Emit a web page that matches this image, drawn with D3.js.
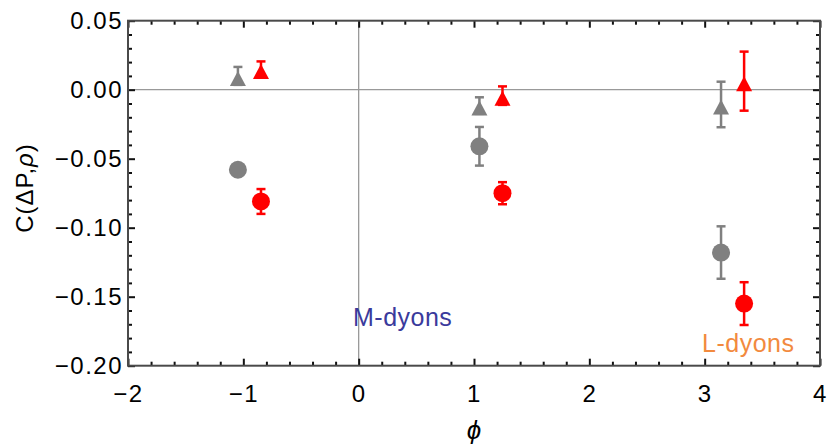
<!DOCTYPE html>
<html>
<head>
<meta charset="utf-8">
<script src="https://cdn.jsdelivr.net/npm/d3@7"></script>
<style>
  body { margin: 0; background: #fff; }
  svg { display: block; font-family: "Liberation Sans", Arial, sans-serif; }
  .tick-label { font-size: 24px; letter-spacing: 1.5px; fill: #000; }
</style>
</head>
<body>
<div id="chart"></div>
<script>
// positions of the two series on the phi axis
const phiGray = [-1.047, 1.047, 3.142];
const phiRed = [-0.847, 1.247, 3.342];

// circles
const grayCircle = [-0.058, -0.041, -0.118];
const grayCircleErr = [0.004, 0.014, 0.019];
const redCircle = [-0.081, -0.075, -0.155];
const redCircleErr = [0.009, 0.008, 0.0155];

// triangles
const grayTri = [0.010, -0.0115, -0.0107];
const grayTriErr = [0.0065, 0.006, 0.0165];
const redTri = [0.015, -0.0043, 0.0062];
const redTriErr = [0.0055, 0.0067, 0.0214];

const xTicks = [-2, -1, 0, 1, 2, 3, 4];
const yTicks = [-0.20, -0.15, -0.10, -0.05, 0.00, 0.05];

const width = 827;
const height = 448;
const margin = { top: 20.7, right: 7, bottom: 82.3, left: 128 };

const svg = d3.select('#chart')
  .append('svg')
  .attr('width', width)
  .attr('height', height);

const x = d3.scaleLinear().domain([-2, 4]).range([margin.left, width - margin.right]);
const y = d3.scaleLinear().domain([-0.2, 0.05]).range([height - margin.bottom, margin.top]);

const x0 = x.range()[0], x1 = x.range()[1];
const y0 = y.range()[0], y1 = y.range()[1];

// zero lines
svg.append('line')
  .attr('x1', x(0)).attr('x2', x(0))
  .attr('y1', y1).attr('y2', y0)
  .attr('stroke', '#999').attr('stroke-width', 1.3);
svg.append('line')
  .attr('x1', x0).attr('x2', x1)
  .attr('y1', y(0)).attr('y2', y(0))
  .attr('stroke', '#999').attr('stroke-width', 1.3);

// frame ticks, pointing inward on all four sides
const xMinor = d3.range(-2, 4.001, 0.2).filter(v => Math.abs(v - Math.round(v)) > 1e-6);
const yMinor = d3.range(-0.2, 0.0501, 0.01).filter(v => Math.abs(v * 20 - Math.round(v * 20)) > 1e-6);

function styleAxis(g) {
  g.select('.domain').remove();
  g.selectAll('.tick line').attr('stroke', '#111').attr('stroke-width', 2);
}

svg.append('g')
  .attr('transform', `translate(0,${y0})`)
  .call(d3.axisBottom(x).tickValues(xTicks).tickSizeInner(-7).tickSizeOuter(0).tickPadding(19)
    .tickFormat(d => d < 0 ? '\u2212' + Math.abs(d) : String(d)))
  .call(styleAxis)
  .call(g => g.selectAll('text').attr('class', 'tick-label').attr('font-size', null).attr('font-family', null)
    .attr('dy', '0.71em'));

svg.append('g')
  .attr('transform', `translate(0,${y0})`)
  .call(d3.axisBottom(x).tickValues(xMinor).tickSizeInner(-4).tickSizeOuter(0).tickFormat(''))
  .call(styleAxis);

svg.append('g')
  .attr('transform', `translate(0,${y1})`)
  .call(d3.axisTop(x).tickValues(xTicks).tickSizeInner(-7).tickSizeOuter(0).tickFormat(''))
  .call(styleAxis);
svg.append('g')
  .attr('transform', `translate(0,${y1})`)
  .call(d3.axisTop(x).tickValues(xMinor).tickSizeInner(-4).tickSizeOuter(0).tickFormat(''))
  .call(styleAxis);

svg.append('g')
  .attr('transform', `translate(${x0},0)`)
  .call(d3.axisLeft(y).tickValues(yTicks).tickSizeInner(-7).tickSizeOuter(0).tickPadding(5)
    .tickFormat(d => {
      const s = Math.abs(d).toFixed(2);
      return d < -1e-9 ? '\u2212' + s : s;
    }))
  .call(styleAxis)
  .call(g => g.selectAll('text').attr('class', 'tick-label').attr('font-size', null).attr('font-family', null));

svg.append('g')
  .attr('transform', `translate(${x0},0)`)
  .call(d3.axisLeft(y).tickValues(yMinor).tickSizeInner(-4).tickSizeOuter(0).tickFormat(''))
  .call(styleAxis);

svg.append('g')
  .attr('transform', `translate(${x1},0)`)
  .call(d3.axisRight(y).tickValues(yTicks).tickSizeInner(-7).tickSizeOuter(0).tickFormat(''))
  .call(styleAxis);
svg.append('g')
  .attr('transform', `translate(${x1},0)`)
  .call(d3.axisRight(y).tickValues(yMinor).tickSizeInner(-4).tickSizeOuter(0).tickFormat(''))
  .call(styleAxis);

// frame
svg.append('rect')
  .attr('x', x0).attr('y', y1)
  .attr('width', x1 - x0).attr('height', y0 - y1)
  .attr('fill', 'none')
  .attr('stroke', '#4a4a4a')
  .attr('stroke-width', 2);

// series
const series = [
  { phi: phiGray, vals: grayTri, errs: grayTriErr, color: '#808080', shape: 'tri' },
  { phi: phiRed, vals: redTri, errs: redTriErr, color: '#ff0000', shape: 'tri' },
  { phi: phiGray, vals: grayCircle, errs: grayCircleErr, color: '#808080', shape: 'circle' },
  { phi: phiRed, vals: redCircle, errs: redCircleErr, color: '#ff0000', shape: 'circle' }
];

const capHalf = 4.5;
// glyph-like triangle: apex a little above the point, base further below
const markerTri = {
  draw(ctx) {
    ctx.moveTo(0, -5);
    ctx.lineTo(8, 10);
    ctx.lineTo(-8, 10);
    ctx.closePath();
  }
};
const triangle = d3.symbol().type(markerTri);

series.forEach(s => {
  const pts = s.phi.map((p, i) => ({ phi: p, v: s.vals[i], e: s.errs[i] }));
  const g = svg.append('g').attr('fill', s.color).attr('stroke', s.color);

  const bars = g.selectAll('.err').data(pts).enter().append('g').attr('class', 'err')
    .attr('stroke-width', 2.5);
  bars.append('line')
    .attr('x1', d => x(d.phi)).attr('x2', d => x(d.phi))
    .attr('y1', d => y(d.v + d.e)).attr('y2', d => y(d.v - d.e));
  bars.append('line')
    .attr('x1', d => x(d.phi) - capHalf).attr('x2', d => x(d.phi) + capHalf)
    .attr('y1', d => y(d.v + d.e)).attr('y2', d => y(d.v + d.e));
  bars.append('line')
    .attr('x1', d => x(d.phi) - capHalf).attr('x2', d => x(d.phi) + capHalf)
    .attr('y1', d => y(d.v - d.e)).attr('y2', d => y(d.v - d.e));

  if (s.shape === 'circle') {
    g.selectAll('circle').data(pts).enter().append('circle')
      .attr('cx', d => x(d.phi)).attr('cy', d => y(d.v))
      .attr('r', 9).attr('stroke', 'none');
  } else {
    g.selectAll('path.tri').data(pts).enter().append('path')
      .attr('class', 'tri')
      .attr('d', triangle)
      .attr('transform', d => `translate(${x(d.phi)},${y(d.v)})`)
      .attr('stroke', 'none');
  }
});

// annotations
svg.append('text')
  .attr('x', 353).attr('y', 326)
  .attr('font-size', 25).attr('fill', '#3a3a9c')
  .attr('letter-spacing', 0.5)
  .text('M-dyons');

svg.append('text')
  .attr('x', 702).attr('y', 352)
  .attr('font-size', 25).attr('fill', '#f28a3e')
  .attr('letter-spacing', 0.5)
  .text('L-dyons');

// axis titles
svg.append('text')
  .attr('x', 474).attr('y', 439)
  .attr('text-anchor', 'middle')
  .attr('font-size', 26).attr('font-style', 'italic')
  .text('\u03D5');

const yTitle = svg.append('text')
  .attr('transform', 'translate(33,188) rotate(-90)')
  .attr('text-anchor', 'middle')
  .attr('font-size', 24)
  .attr('letter-spacing', 1);
yTitle.append('tspan').text('C(\u0394P,');
yTitle.append('tspan').attr('font-style', 'italic').text('\u03C1');
yTitle.append('tspan').text(')');
</script>
</body>
</html>
